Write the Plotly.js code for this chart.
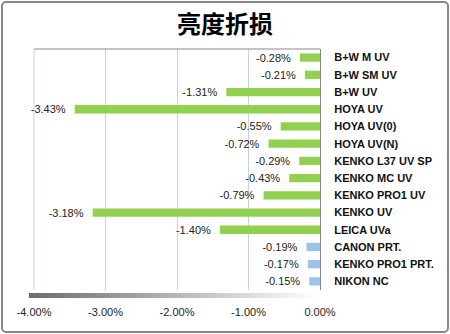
<!DOCTYPE html>
<html>
<head>
<meta charset="utf-8">
<script src="https://cdn.plot.ly/plotly-3.0.1.min.js"></script>
<style>
html,body{margin:0;padding:0;background:#fff;}
#wrap{position:relative;width:450px;height:334px;}
#chart{width:450px;height:334px;}
#frame{position:absolute;left:1px;top:1px;width:444px;height:328px;border:2px solid #888;border-radius:5px;pointer-events:none;}
</style>
</head>
<body>
<div id="wrap"><div id="chart"></div><div id="frame"></div></div>
<script>
const categories = ["B+W M UV","B+W SM UV","B+W UV","HOYA UV","HOYA UV(0)","HOYA UV(N)","KENKO L37 UV SP","KENKO MC UV","KENKO PRO1 UV","KENKO UV","LEICA UVa","CANON PRT.","KENKO PRO1 PRT.","NIKON NC"];
const lossPct = [-0.28,-0.21,-1.31,-3.43,-0.55,-0.72,-0.29,-0.43,-0.79,-3.18,-1.40,-0.19,-0.17,-0.15];
const filterType = ["uv","uv","uv","uv","uv","uv","uv","uv","uv","uv","uv","prt","prt","prt"];
const xTickVals = [-0.04,-0.03,-0.02,-0.01,0];
const xTickText = ["-4.00%","-3.00%","-2.00%","-1.00%","0.00%"];

const colorMap = {uv:"#92d050", prt:"#9cc3ee"};
const xs = lossPct.map(v => v/100);

const gradSvg = "<svg xmlns='http://www.w3.org/2000/svg' width='290' height='5' preserveAspectRatio='none'><defs><linearGradient id='g' x1='0' x2='1' y1='0' y2='0'><stop offset='0' stop-color='#6b6b6b'/><stop offset='1' stop-color='#ffffff'/></linearGradient></defs><rect width='290' height='5' fill='url(#g)'/></svg>";
const gradUrl = "data:image/svg+xml;charset=utf-8," + encodeURIComponent(gradSvg);

const trace = {
  type:"bar", orientation:"h",
  x: xs, y: categories,
  marker:{color: filterType.map(t => colorMap[t])},
  texttemplate:"%{x:.2%}\u00a0\u00a0",
  textposition:"outside",
  constraintext:"none",
  cliponaxis:false,
  textfont:{family:"Liberation Sans, Arial, sans-serif", size:11, color:"#222"},
  hoverinfo:"skip"
};

const layout = {
  width:450, height:334,
  margin:{l:34, r:130, t:49, b:44},
  paper_bgcolor:"#fff", plot_bgcolor:"#fff",
  showlegend:false,
  bargap:0.52,
  title:{text:"亮度折损", x:0.5, xanchor:"center", y:0.925, yanchor:"middle", yref:"container",
    font:{family:"Noto Sans CJK SC, sans-serif", size:24, color:"#000", weight:"bold"}},
  xaxis:{range:[-0.04,0], tickvals:xTickVals, ticktext:xTickText,
    showgrid:true, gridcolor:"#c3d2e4", gridwidth:1, zeroline:false, showline:false,
    ticks:"outside", ticklen:12, tickcolor:"rgba(0,0,0,0)",
    tickfont:{family:"Liberation Sans, Arial, sans-serif", size:11, color:"#222"}, fixedrange:true},
  yaxis:{type:"category", categoryorder:"array", categoryarray:categories, autorange:"reversed",
    side:"right", showline:true, linecolor:"#888", linewidth:1, showgrid:false, zeroline:false,
    ticks:"outside", ticklen:11, tickcolor:"rgba(0,0,0,0)",
    tickfont:{family:"Liberation Sans, Arial, sans-serif", size:11, color:"#111", weight:"bold"}, fixedrange:true},
  shapes:[
    {type:"line", xref:"paper", yref:"paper", x0:0, x1:0, y0:0, y1:1, line:{color:"#c3d2e4", width:1}, layer:"below"},
    {type:"line", xref:"paper", yref:"paper", x0:0, x1:1, y0:1, y1:1, line:{color:"#888", width:1}}
  ],
  images:[{source:gradUrl, xref:"paper", yref:"paper", x:-0.0185, y:-0.012, sizex:1.01, sizey:0.022,
    xanchor:"left", yanchor:"top", sizing:"stretch", layer:"above"}]
};

Plotly.newPlot("chart", [trace], layout, {displayModeBar:false, staticPlot:true});
</script>
</body>
</html>
